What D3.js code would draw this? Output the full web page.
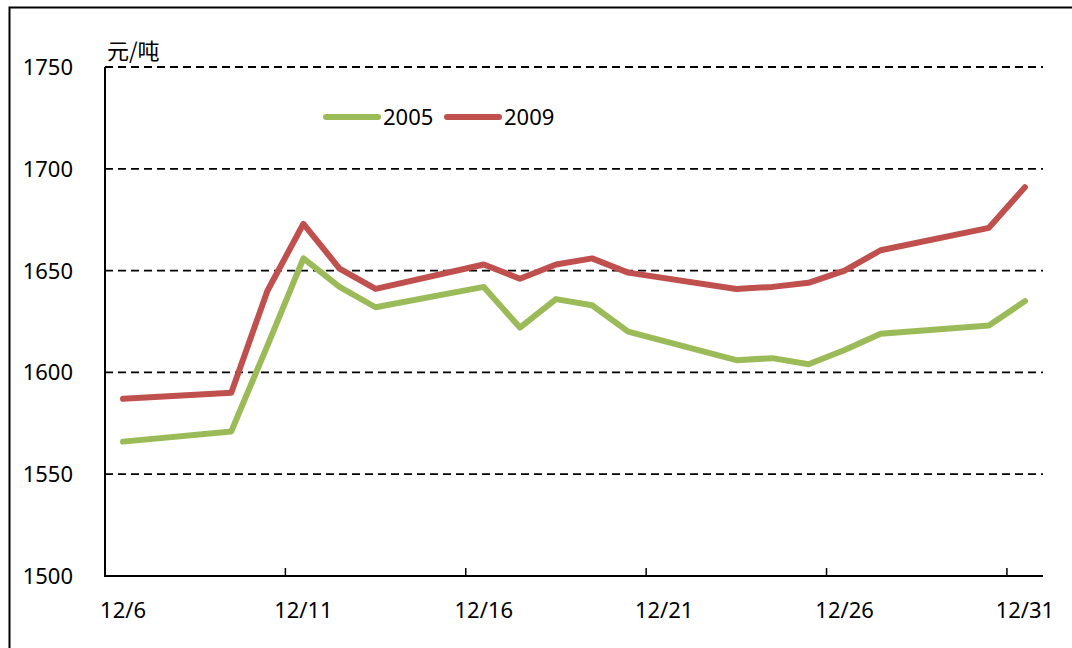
<!DOCTYPE html>
<html>
<head>
<meta charset="utf-8">
<script src="https://cdn.jsdelivr.net/npm/d3@7"></script>
<style>
body { margin: 0; background: #fff; }
text { font-family: "Noto Sans", "Noto Sans CJK SC", sans-serif; fill: #000; }
</style>
</head>
<body>
<script>
// data
var days = ["12/6","12/7","12/8","12/9","12/10","12/11","12/12","12/13","12/14","12/15","12/16","12/17","12/18","12/19","12/20",
            "12/21","12/22","12/23","12/24","12/25","12/26","12/27","12/28","12/29","12/30","12/31"];
var tradeDays = ["12/6","12/9","12/10","12/11","12/12","12/13","12/16","12/17","12/18","12/19","12/20",
                 "12/23","12/24","12/25","12/26","12/27","12/30","12/31"];
var values2005 = [1566,1571,1613,1656,1642,1632,1642,1622,1636,1633,1620,1606,1607,1604,1611,1619,1623,1635];
var values2009 = [1587,1590,1640,1673,1651,1641,1653,1646,1653,1656,1649,1641,1642,1644,1650,1660,1671,1691];
var seriesNames = ["2005","2009"];
var colors = ["#9BBB59","#C0504D"];
var yTicks = [1500,1550,1600,1650,1700,1750];
var xLabels = ["12/6","12/11","12/16","12/21","12/26","12/31"];
//////////////////////////////

var width = 1072, height = 648;
var svg = d3.select("body").append("svg")
    .attr("width", width)
    .attr("height", height);

// outer frame
svg.append("rect")
    .attr("x", 9.5).attr("y", 7.5)
    .attr("width", 1100).attr("height", 700)
    .attr("fill", "none").attr("stroke", "#000").attr("stroke-width", 2);

var x = d3.scaleBand().domain(days).range([105, 1043]);
var y = d3.scaleLinear().domain([1500, 1750]).range([576, 67]);

// dashed grid
svg.selectAll(".grid")
    .data(yTicks.filter(function(d) { return d > 1500; }))
    .enter().append("line")
    .attr("x1", 105).attr("x2", 1043)
    .attr("y1", function(d) { return y(d); })
    .attr("y2", function(d) { return y(d); })
    .attr("stroke", "#000")
    .attr("stroke-width", 1.8)
    .attr("stroke-dasharray", "8,5");

// y labels
svg.selectAll(".ylab")
    .data(yTicks)
    .enter().append("text")
    .attr("x", 73)
    .attr("y", function(d) { return y(d) + 8; })
    .attr("text-anchor", "end")
    .attr("font-size", "22px")
    .text(function(d) { return d; });

svg.append("text")
    .attr("x", 107).attr("y", 59)
    .attr("font-size", "22px")
    .style("font-family", "'Noto Sans CJK SC', sans-serif")
    .text("元/吨");

// axes
svg.append("line")
    .attr("x1", 105).attr("x2", 105).attr("y1", 67).attr("y2", 577)
    .attr("stroke", "#000").attr("stroke-width", 2);
svg.append("line")
    .attr("x1", 104).attr("x2", 1043).attr("y1", 576).attr("y2", 576)
    .attr("stroke", "#000").attr("stroke-width", 2);

// x ticks at every 5th category boundary
var tickDays = days.filter(function(d, i) { return i > 0 && i % 5 === 0; });
svg.selectAll(".xtick")
    .data(tickDays)
    .enter().append("line")
    .attr("x1", function(d) { return x(d); })
    .attr("x2", function(d) { return x(d); })
    .attr("y1", 576).attr("y2", 568)
    .attr("stroke", "#000").attr("stroke-width", 1.5);

svg.selectAll(".xlab")
    .data(xLabels)
    .enter().append("text")
    .attr("x", function(d) { return x(d) + x.bandwidth() / 2; })
    .attr("y", 618)
    .attr("text-anchor", "middle")
    .attr("font-size", "22px")
    .text(function(d) { return d; });

// lines
var line = d3.line()
    .x(function(d) { return x(d.day) + x.bandwidth() / 2; })
    .y(function(d) { return y(d.v); });

[values2005, values2009].forEach(function(vals, k) {
    var pts = tradeDays.map(function(d, i) { return { day: d, v: vals[i] }; });
    svg.append("path")
        .datum(pts)
        .attr("d", line)
        .attr("fill", "none")
        .attr("stroke", colors[k])
        .attr("stroke-width", 6)
        .attr("stroke-linejoin", "round")
        .attr("stroke-linecap", "round");
});

// legend
var legX = [326, 447];
seriesNames.forEach(function(name, k) {
    svg.append("line")
        .attr("x1", legX[k]).attr("x2", legX[k] + 52)
        .attr("y1", 117).attr("y2", 117)
        .attr("stroke", colors[k]).attr("stroke-width", 6)
        .attr("stroke-linecap", "round");
    svg.append("text")
        .attr("x", legX[k] + 57).attr("y", 125)
        .attr("font-size", "22px")
        .text(name);
});
</script>
</body>
</html>
